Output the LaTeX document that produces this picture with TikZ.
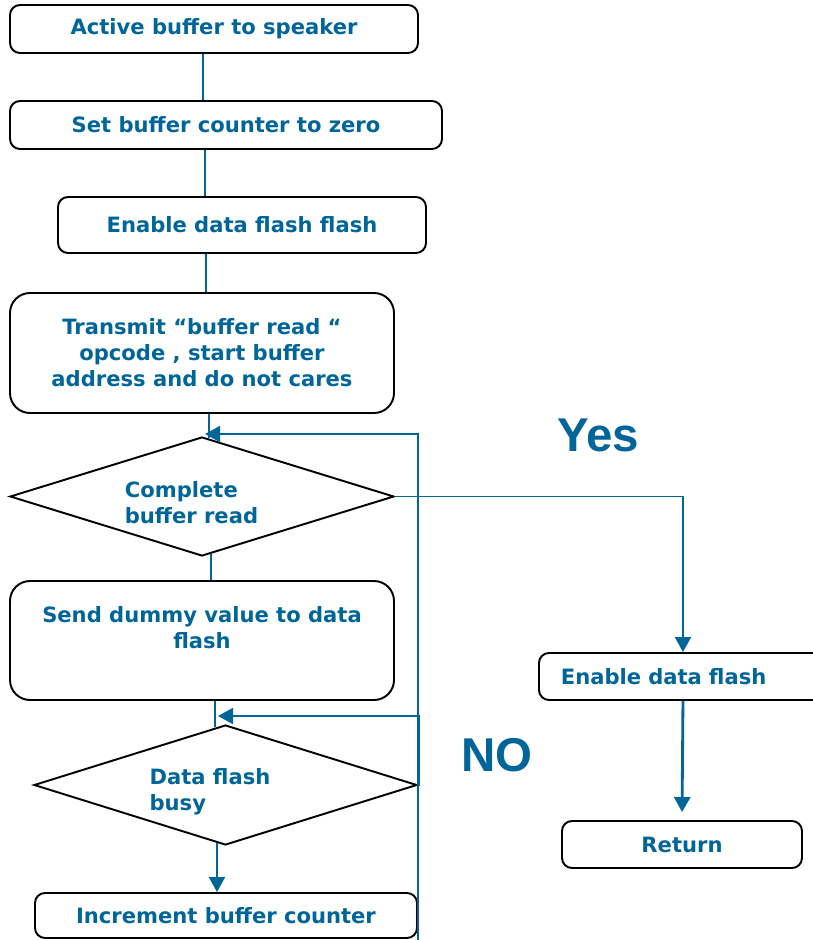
\documentclass[tikz,border=0pt]{standalone}
\usepackage{fontspec}
\setmainfont{DejaVu Sans}
\newfontfamily\bigfont{Liberation Sans}
\usepackage{xcolor}
\definecolor{flowblue}{RGB}{0,102,153}
\usetikzlibrary{shapes.geometric,arrows.meta,calc}

\begin{document}
\begin{tikzpicture}[x=2mm,y=2mm]
\tikzstyle{every node}+=[font=\fontsize{12}{14.8}\selectfont\bfseries,text=flowblue]
\tikzstyle{stepbox}=[draw=black,line width=1.1pt,rounded corners=0.2cm,inner sep=0pt,align=center]
\tikzstyle{bigbox}=[stepbox,rounded corners=0.4cm]
\tikzstyle{decision}=[draw=black,line width=1.1pt,diamond,shape aspect=3.2,inner sep=0pt]
\tikzstyle{flow}=[flowblue,line width=1.1pt]
\tikzstyle{flowarrow}=[flow,-{Triangle[length=0.3cm,width=0.32cm]}]
\tikzstyle{answer}=[font=\bigfont\fontsize{27}{30}\selectfont\bfseries]
\useasboundingbox (0,0) rectangle (81.3,-94.0);
\node [stepbox,minimum width=8.16cm,minimum height=0.96cm] (act) at (21.4,-2.9) {Active buffer to speaker};
\node [stepbox,minimum width=8.64cm,minimum height=0.96cm] (zero) at (22.6,-12.5) {Set buffer counter to zero};
\node [stepbox,minimum width=7.36cm,minimum height=1.12cm] (enable) at (24.2,-22.5) {Enable data flash flash};
\node [bigbox,minimum width=7.68cm,minimum height=2.4cm] (transmit) at (20.2,-35.3) {Transmit “buffer read “\\opcode , start buffer\\address and do not cares};
\node [decision,minimum width=7.68cm,minimum height=2.38cm] (complete) at (20.2,-49.65) {};
\node [align=left] (completetxt) at (19.15,-50.3) {Complete\\buffer read};
\node [bigbox,minimum width=7.68cm,minimum height=2.38cm] (dummy) at (20.2,-64.05) {Send dummy value to data\\flash\\\mbox{}};
\node [decision,minimum width=7.66cm,minimum height=2.4cm] (busy) at (22.55,-78.5) {};
\node [align=left] (busytxt) at (21.0,-79.2) {Data flash\\busy};
\node [stepbox,minimum width=7.64cm,minimum height=0.9cm] (inc) at (22.6,-91.55) {Increment buffer counter};
\node [stepbox,anchor=west,inner xsep=0.44cm,text width=4.88cm,align=left,minimum height=0.94cm] (flashon) at (53.8,-67.65) {Enable data flash};
\node [stepbox,minimum width=4.8cm,minimum height=0.94cm] (ret) at (68.2,-84.45) {Return};
\node [answer] (yes) at (59.8,-43.5) {Yes};
\node [answer] (no) at (49.7,-75.5) {NO};
\coordinate (back) at (41.8,-95);
\coordinate (busyin) at (21.8,-71.6);
\draw [flow] ($(act.south)+(-1.1,0)$) -- ($(zero.north)+(-2.3,0)$);
\draw [flow] ($(zero.south)+(-2.1,0)$) -- ($(enable.north)+(-3.7,0)$);
\draw [flow] ($(enable.south)+(-3.6,0)$) -- ($(transmit.north)+(0.4,0)$);
\draw [flow] ($(transmit.south)+(0.7,0)$) -- ($(complete.north)+(0.7,-0.2)$);
\draw [flow] ($(complete.south)+(0.9,0.3)$) -- ($(dummy.north)+(0.9,0)$);
\draw [flow] ($(dummy.south)+(1.3,0)$) -- ($(busy.north)+(-1.05,-0.3)$);
\draw [flowarrow] ($(busy.south)+(-0.85,0.3)$) -- ($(inc.north)+(-0.9,0)$);
\draw [flowarrow] (back) |- ($(complete.north)+(0.3,0.2)$);
\draw [flowarrow] (busy.east) -- ++(0.1,0) |- (busyin);
\draw [flowarrow] (complete.east) -| (flashon.north);
\draw [flowarrow,line width=1.6pt,shorten >=0.16cm] (flashon.south) -- (ret.north);
\end{tikzpicture}
\end{document}
